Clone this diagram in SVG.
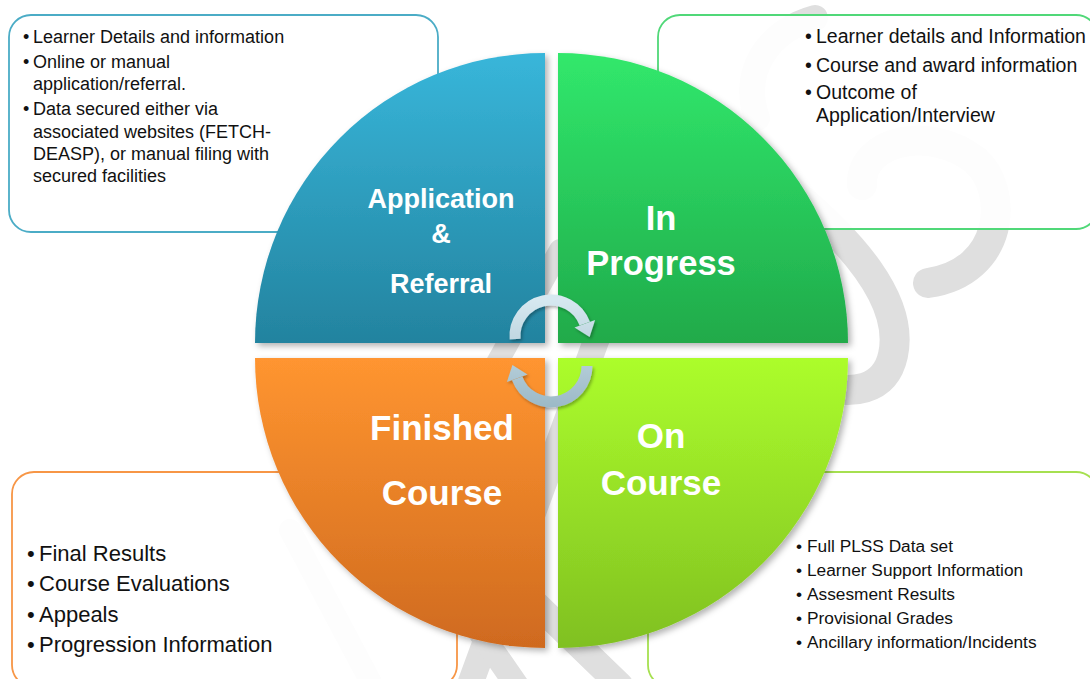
<svg xmlns="http://www.w3.org/2000/svg" width="1090" height="679" viewBox="0 0 1090 679">
<style>
.box{fill:#fff;fill-opacity:0.92;stroke-width:1.8}
.t{font-family:"Liberation Sans",Arial,sans-serif;fill:#111}
.lbl{font-family:"Liberation Sans",Arial,sans-serif;font-weight:bold;fill:#fff;text-anchor:middle}
.wm{fill:none;stroke:#dfdfdf;stroke-linecap:round}
.arc{fill:none;stroke:url(#ag);stroke-width:11}
.head{fill:url(#ag)}
</style>
<defs>
<linearGradient id="gTL" x1="0" y1="0" x2="0" y2="1"><stop offset="0" stop-color="#38b6da"/><stop offset="1" stop-color="#23839f"/></linearGradient>
<linearGradient id="gTR" x1="0" y1="0" x2="0" y2="1"><stop offset="0" stop-color="#31e86c"/><stop offset="1" stop-color="#20aa4a"/></linearGradient>
<linearGradient id="gBL" x1="0" y1="0" x2="0" y2="1"><stop offset="0" stop-color="#ff9530"/><stop offset="1" stop-color="#cf6a1f"/></linearGradient>
<linearGradient id="gBR" x1="0" y1="0" x2="0" y2="1"><stop offset="0" stop-color="#acfd2c"/><stop offset="1" stop-color="#80c021"/></linearGradient>
<linearGradient id="ag" gradientUnits="userSpaceOnUse" x1="0" y1="300" x2="0" y2="410"><stop offset="0" stop-color="#d6e8f0"/><stop offset="1" stop-color="#9ab8c6"/></linearGradient>
<filter id="sh" x="-10%" y="-10%" width="120%" height="120%"><feDropShadow dx="3" dy="3" stdDeviation="3" flood-color="#000" flood-opacity="0.3"/></filter>
<filter id="sh2" x="-20%" y="-20%" width="140%" height="140%"><feDropShadow dx="1.5" dy="2" stdDeviation="1.5" flood-color="#000" flood-opacity="0.3"/></filter>
</defs>

<g id="watermark">
<path class="wm" stroke-width="30" d="M862,185 C860,140 930,125 975,160 C1010,190 1005,272 928,283"/>
<path class="wm" stroke-width="26" d="M757,118 C740,70 770,30 815,18"/>
<path class="wm" stroke-width="30" d="M790,190 C850,240 905,300 893,355 C885,392 850,395 820,385"/>
<path class="wm" stroke-width="22" d="M290,530 L375,690"/>
<path class="wm" stroke-width="26" d="M468,690 L600,330"/>
<path class="wm" stroke-width="26" d="M470,540 L620,685"/>
<path class="wm" stroke-width="24" d="M520,690 L430,560"/>
<path class="wm" stroke-width="22" d="M465,420 L560,250"/>
</g>

<g id="box-application">
<rect class="box" x="9" y="15" width="429" height="217" rx="22" stroke="#4bacc6"/>
<g class="t" font-size="18">
<text x="23" y="43">•</text><text x="33" y="43">Learner Details and information</text>
<text x="23" y="68">•</text><text x="33" y="68">Online or manual</text>
<text x="33" y="90">application/referral.</text>
<text x="23" y="115">•</text><text x="33" y="115">Data secured either via</text>
<text x="33" y="138">associated websites (FETCH-</text>
<text x="33" y="160">DEASP), or manual filing with</text>
<text x="33" y="182">secured facilities</text>
</g>
</g>

<g id="box-inprogress">
<rect class="box" x="658" y="15" width="440" height="214" rx="22" stroke="#50d878"/>
<g class="t" font-size="19.5">
<text x="805" y="43">•</text><text x="816" y="43">Learner details and Information</text>
<text x="805" y="72">•</text><text x="816" y="72">Course and award information</text>
<text x="805" y="99">•</text><text x="816" y="99">Outcome of</text>
<text x="816" y="122">Application/Interview</text>
</g>
</g>

<g id="box-finished">
<rect class="box" x="12" y="472" width="445" height="215" rx="22" stroke="#f79646"/>
<g class="t" font-size="22">
<text x="27" y="561">•</text><text x="39" y="561">Final Results</text>
<text x="27" y="591">•</text><text x="39" y="591">Course Evaluations</text>
<text x="27" y="622">•</text><text x="39" y="622">Appeals</text>
<text x="27" y="652">•</text><text x="39" y="652">Progression Information</text>
</g>
</g>

<g id="box-oncourse">
<rect class="box" x="648" y="472" width="450" height="215" rx="22" stroke="#a6e050"/>
<g class="t" font-size="17.3">
<text x="796" y="552">•</text><text x="807" y="552">Full PLSS Data set</text>
<text x="796" y="576">•</text><text x="807" y="576">Learner Support Information</text>
<text x="796" y="600">•</text><text x="807" y="600">Assesment Results</text>
<text x="796" y="624">•</text><text x="807" y="624">Provisional Grades</text>
<text x="796" y="648">•</text><text x="807" y="648">Ancillary information/Incidents</text>
</g>
</g>

<g id="node-application">
<path d="M545,343 L255,343 A290,290 0 0 1 545,53 Z" fill="url(#gTL)" filter="url(#sh)"/>
<text class="lbl" font-size="27" x="441" y="208">Application</text>
<text class="lbl" font-size="27" x="441" y="243">&amp;</text>
<text class="lbl" font-size="27" x="441" y="293">Referral</text>
</g>

<g id="node-inprogress">
<path d="M558,343 L558,53 A290,290 0 0 1 848,343 Z" fill="url(#gTR)" filter="url(#sh)"/>
<text class="lbl" font-size="34.5" x="661" y="230">In</text>
<text class="lbl" font-size="34.5" x="661" y="275">Progress</text>
</g>

<g id="node-oncourse">
<path d="M558,358 L848,358 A290,290 0 0 1 558,648 Z" fill="url(#gBR)" filter="url(#sh)"/>
<text class="lbl" font-size="35" x="661" y="448">On</text>
<text class="lbl" font-size="35" x="661" y="495">Course</text>
</g>

<g id="node-finished">
<path d="M545,358 L545,648 A290,290 0 0 1 255,358 Z" fill="url(#gBL)" filter="url(#sh)"/>
<text class="lbl" font-size="35" x="442" y="440">Finished</text>
<text class="lbl" font-size="35" x="442" y="505">Course</text>
</g>

<g id="connectors" filter="url(#sh2)">
<path class="arc" d="M515.1,339.1 A36,36 0 0 1 584.8,323.7"/>
<polygon class="head" points="595.1,320 574.5,327.5 589.6,336.9"/>
<path class="arc" d="M587,366 A36,36 0 0 1 517.2,378.3"/>
<polygon class="head" points="506.9,382.1 527.5,374.5 512.4,365.1"/>
</g>
</svg>
